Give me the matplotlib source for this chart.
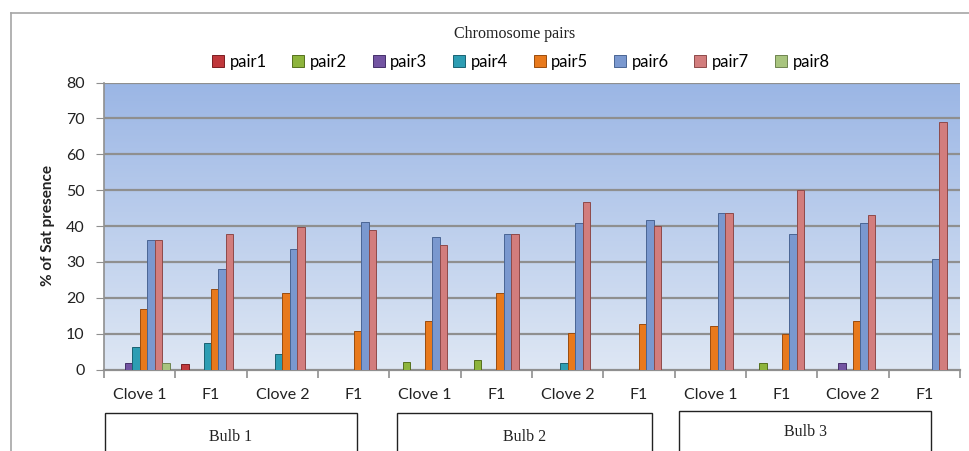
import matplotlib
matplotlib.use("Agg")
import matplotlib.pyplot as plt
import numpy as np
from matplotlib.patches import Rectangle
from matplotlib.lines import Line2D

plt.rcParams['font.family'] = ['Lato', 'DejaVu Sans']

categories = ["Clove 1", "F1", "Clove 2", "F1",
              "Clove 1", "F1", "Clove 2", "F1",
              "Clove 1", "F1", "Clove 2", "F1"]
groups = ["Bulb 1", "Bulb 2", "Bulb 3"]
series_names = ["pair1", "pair2", "pair3", "pair4", "pair5", "pair6", "pair7", "pair8"]

pair1 = [0, 1.6, 0, 0, 0, 0, 0, 0, 0, 0, 0, 0]
pair2 = [0, 0, 0, 0, 2.1, 2.7, 0, 0, 0, 1.8, 0, 0]
pair3 = [1.8, 0, 0, 0, 0, 0, 0, 0, 0, 0, 1.8, 0]
pair4 = [6.2, 7.5, 4.4, 0, 0, 0, 1.8, 0, 0, 0, 0, 0]
pair5 = [16.8, 22.4, 21.4, 10.8, 13.6, 21.3, 10.3, 12.8, 12.2, 9.9, 13.5, 0]
pair6 = [36.1, 28.1, 33.7, 41.2, 37.0, 37.9, 40.7, 41.8, 43.7, 37.9, 40.9, 30.9]
pair7 = [36.1, 37.9, 39.8, 39.0, 34.8, 37.9, 46.8, 40.1, 43.7, 49.9, 43.2, 68.9]
pair8 = [1.8, 0, 0, 0, 0, 0, 0, 0, 0, 0, 0, 0]
series = [pair1, pair2, pair3, pair4, pair5, pair6, pair7, pair8]

colors = ["#C0383C", "#8DB43C", "#7354A2", "#2D9DB3", "#E8791C", "#7A98CF", "#D27D7D", "#A8C47E"]
edges = ["#7A1E22", "#55701E", "#45306A", "#1A6272", "#9A4C0E", "#4A6594", "#8E4A4A", "#6E8450"]

W, H = 970, 451
fig = plt.figure(figsize=(W / 100, H / 100), dpi=100)
fig.patch.set_facecolor("white")

x0, x1 = 104, 960
ytop, ybot = 82.5, 369.5
ax = fig.add_axes([x0 / W, 1 - ybot / H, (x1 - x0) / W, (ybot - ytop) / H])

n = len(categories)
ax.set_xlim(-0.5, n - 0.5)
ax.set_ylim(0, 80)

# gradient background
grad = np.linspace(0, 1, 256).reshape(-1, 1)
c_top = np.array([0x9B, 0xB6, 0xE5]) / 255
c_bot = np.array([0xDE, 0xE7, 0xF4]) / 255
img = c_bot + (c_top - c_bot) * grad
ax.imshow(img[:, None, :].repeat(2, axis=1), extent=[-0.5, n - 0.5, 0, 80],
          origin="lower", aspect="auto", zorder=0)

for yv in range(10, 81, 10):
    ax.axhline(yv, color="#8F8F8F", lw=1.6, zorder=1)

bw = 0.105
xs = np.arange(n)
for i, (vals, c, e) in enumerate(zip(series, colors, edges)):
    off = (i - 3.5) * bw
    ax.bar(xs + off, vals, width=bw, color=c, edgecolor=e, linewidth=0.7,
           label=series_names[i], zorder=3)

for sp in ["top", "right"]:
    ax.spines[sp].set_visible(False)
ax.spines["left"].set_color("#8F8F8F")
ax.spines["bottom"].set_color("#8F8F8F")
ax.spines["left"].set_linewidth(1.2)
ax.spines["bottom"].set_linewidth(1.6)

ax.set_yticks(range(0, 81, 10))
ax.tick_params(axis="y", length=6, color="#8F8F8F", labelsize=11.5, pad=8, labelcolor="#222222")
ax.set_xticks(xs)
ax.set_xticklabels(categories)
ax.tick_params(axis="x", which="major", length=0, pad=13, labelsize=11.5, labelcolor="#222222")
ax.set_xticks(np.arange(-0.5, n, 1), minor=True)
ax.tick_params(axis="x", which="minor", length=6, color="#8F8F8F", width=1.2)
ax.set_ylabel("% of Sat presence", fontsize=11, fontweight="bold", labelpad=8, color="#222222")

# legend
handles = [Line2D([0], [0], marker="s", linestyle="none", markersize=8,
                  markerfacecolor=c, markeredgecolor=e, markeredgewidth=0.7)
           for c, e in zip(colors, edges)]
fig.legend(handles, series_names, loc="center", ncol=8, frameon=False,
           bbox_to_anchor=(520 / W, 1 - 62 / H), fontsize=12,
           handlelength=0.9, handletextpad=0.25, columnspacing=1.45)
fig.text(515 / W, 1 - 34 / H, "Chromosome pairs", ha="center", va="center",
         fontsize=11.5, family=["Liberation Serif"], color="#222222")

# frame lines
fig.add_artist(Line2D([11 / W, 11 / W], [0, 1 - 13 / H], transform=fig.transFigure,
                      color="#A6A6A6", lw=1.2))
fig.add_artist(Line2D([11 / W, 1], [1 - 13 / H, 1 - 13 / H], transform=fig.transFigure,
                      color="#A6A6A6", lw=1.2))

# bulb boxes
boxes = [(105, 357, 413, 437), (397, 652, 413, 437), (679, 931, 411, 432)]
for g, (bx0, bx1, by, ty) in zip(groups, boxes):
    fig.add_artist(Rectangle((bx0 / W, -0.05), (bx1 - bx0) / W, 1 - by / H + 0.05,
                             transform=fig.transFigure, fill=False,
                             edgecolor="#222222", lw=1.0))
    fig.text((bx0 + bx1) / 2 / W, 1 - ty / H, g, ha="center", va="center",
             fontsize=11.5, family=["Liberation Serif"], color="#222222")

fig.savefig("out.png", dpi=100)
